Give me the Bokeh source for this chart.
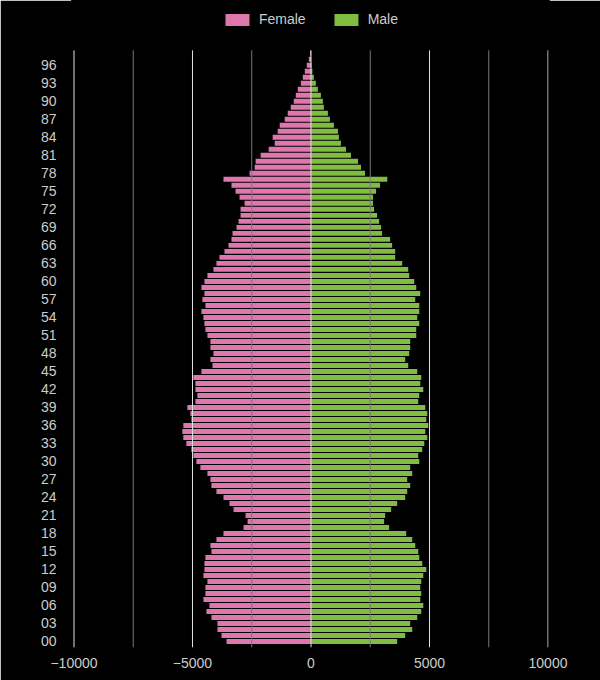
from bokeh.plotting import figure
from bokeh.models import Range1d, FixedTicker, Legend, LegendItem, ColumnDataSource
from bokeh.embed import file_html
from bokeh.resources import INLINE

ages = list(range(0, 99))
female = [3565, 3777, 3946, 3946, 4201, 4412, 4285, 4539, 4455, 4455,
          4370, 4539, 4497, 4497, 4455, 4201, 4243, 3989, 3692, 2845,
          2676, 2761, 3269, 3438, 3692, 3989, 4201, 4243, 4370, 4667,
          4836, 4963, 5048, 5260, 5387, 5429, 5387, 5048, 5090, 5217,
          4878, 4794, 4878, 4878, 4963, 4624, 4158, 4243, 4116, 4243,
          4243, 4370, 4455, 4497, 4539, 4624, 4455, 4582, 4497, 4624,
          4497, 4370, 4116, 3989, 3862, 3650, 3481, 3354, 3311, 3142,
          3057, 2972, 2972, 2803, 3015, 3184, 3354, 3692, 2591, 2379,
          2337, 2125, 1786, 1532, 1617, 1405, 1320, 1108, 981, 854,
          727, 642, 558, 430, 346, 261, 177, 92, 40]
male = [3636, 3975, 4271, 4186, 4483, 4652, 4737, 4610, 4652, 4610,
        4652, 4737, 4864, 4695, 4568, 4525, 4398, 4271, 4017, 3297,
        3085, 3128, 3382, 3636, 3975, 4059, 4186, 4059, 4271, 4186,
        4568, 4525, 4695, 4780, 4907, 4822, 4949, 4864, 4907, 4822,
        4525, 4568, 4737, 4610, 4652, 4483, 4102, 3975, 4144, 4186,
        4186, 4441, 4441, 4568, 4483, 4568, 4568, 4398, 4610, 4441,
        4356, 4144, 4102, 3848, 3551, 3551, 3424, 3339, 3001, 2958,
        2874, 2789, 2662, 2619, 2619, 2746, 2916, 3219, 2280, 2111,
        1984, 1687, 1476, 1264, 1179, 1137, 967, 798, 713, 544,
        501, 417, 290, 205, 120, 60, 25, 10, 5]
x_ticks = [-10000, -5000, 0, 5000, 10000]
x_minor = [-7500, -2500, 2500, 7500]
y_ticks = list(range(0, 97, 3))
y_labels = {t: f"{t:02d}" for t in y_ticks}

FONT = "Liberation Sans"
PINK = "#de77ae"
GREEN = "#7fbc41"

src = ColumnDataSource(dict(age=ages, fneg=[-v for v in female], male=male))

p = figure(width=600, height=680, output_backend="svg", toolbar_location=None,
           x_range=Range1d(-10063, 10021), y_range=Range1d(-1, 106.8),
           min_border_left=72, min_border_right=52, min_border_top=0,
           min_border_bottom=33,
           background_fill_color="black", border_fill_color="black")
p.outline_line_color = "black"
p.outline_line_width = 3

rf = p.hbar(y="age", left="fneg", right=0, height=0.83, source=src,
            fill_color=PINK, line_color=None)
rm = p.hbar(y="age", left=0, right="male", height=0.83, source=src,
            fill_color=GREEN, line_color=None)

# vertical grid lines spanning the age band only
g_bottom = ages[0] - 1
g_top = ages[-1] + 0.5
p.segment(x0=x_minor, x1=x_minor, y0=[g_bottom] * len(x_minor),
          y1=[g_top] * len(x_minor), line_color="#777777", line_width=1)
p.segment(x0=x_ticks, x1=x_ticks, y0=[g_bottom] * len(x_ticks),
          y1=[g_top] * len(x_ticks), line_color="#e0e0e0", line_width=1)

xa = p.xaxis[0]
xa.ticker = FixedTicker(ticks=x_ticks)
xa.axis_line_color = None
xa.major_tick_line_color = None
xa.minor_tick_line_color = None
xa.major_label_standoff = 4
xa.major_label_text_font = FONT
xa.major_label_text_font_size = "14px"
xa.major_label_text_color = "#cccccc"

ya = p.yaxis[0]
ya.ticker = FixedTicker(ticks=y_ticks)
ya.major_label_overrides = y_labels
ya.axis_line_color = None
ya.major_tick_line_color = None
ya.minor_tick_line_color = None
ya.major_label_standoff = 10
ya.major_label_text_font = FONT
ya.major_label_text_font_size = "14px"
ya.major_label_text_color = "#cccccc"

p.xgrid.grid_line_color = None
p.ygrid.grid_line_color = None

legend = Legend(items=[LegendItem(label="Female", renderers=[rf]),
                       LegendItem(label="Male", renderers=[rm])],
                orientation="horizontal", location="top_center",
                glyph_width=30, glyph_height=15, label_standoff=7, spacing=25,
                padding=0, margin=11, background_fill_color="black",
                background_fill_alpha=0, border_line_color=None,
                label_text_font=FONT, label_text_font_size="14px",
                label_text_color="#cccccc", label_height=15)
p.add_layout(legend, "center")

open("out.html", "w").write(file_html(p, INLINE))
